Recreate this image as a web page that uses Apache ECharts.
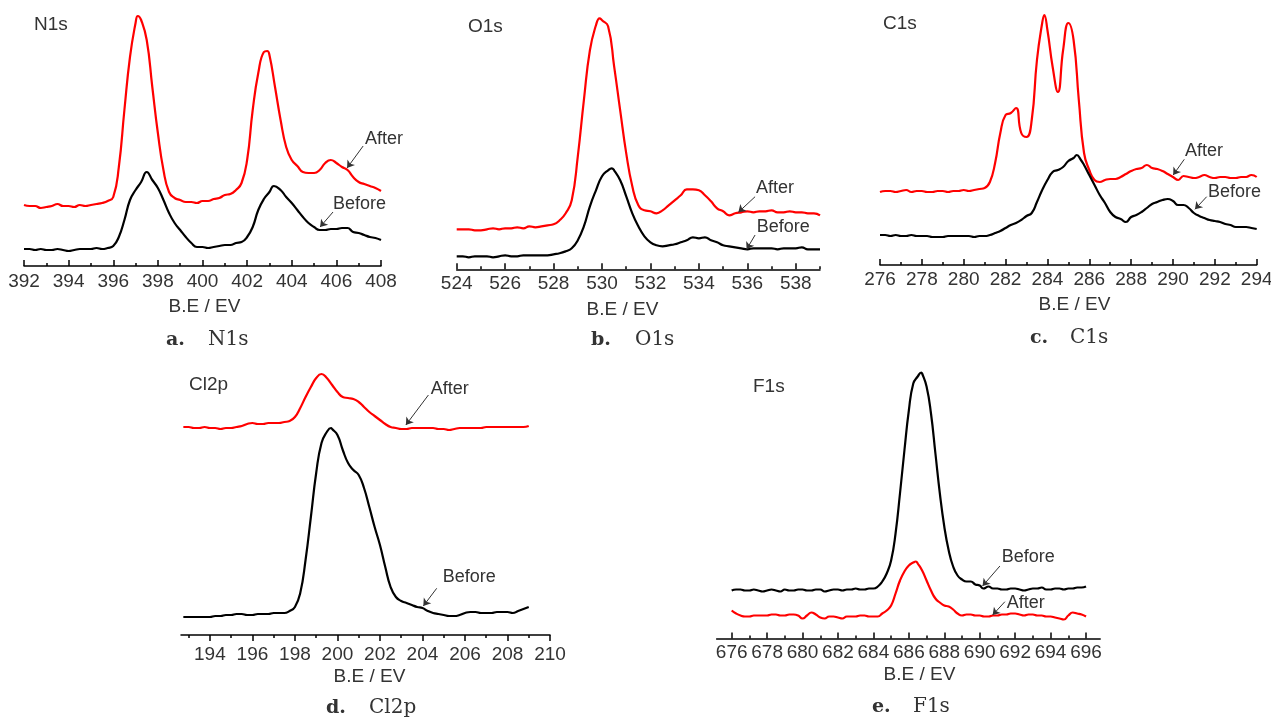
<!DOCTYPE html>
<html>
<head>
<meta charset="utf-8">
<title>XPS spectra before / after</title>
<script src="https://cdn.jsdelivr.net/npm/echarts@6/dist/echarts.min.js"></script>
<style>
  html, body { margin: 0; padding: 0; background: #fff; }
  #chart { width: 1271px; height: 718px; }
</style>
</head>
<body>
<div id="chart"></div>
<script>
// ---- data: [binding energy (eV), intensity (a.u.)] ----
// a. N1s
const n1sAfter = [[392,61],[392.25,60],[392.5,60],[392.75,58],[393,59],[393.25,60],[393.5,62],[393.75,60],[394,60],[394.25,59],[394.5,61],[394.75,60],[395,61],[395.25,62],[395.5,63],[395.75,65],[396,69],[396.25,99],[396.5,156],[396.75,209],[397,243],[397.1,250],[397.25,246],[397.5,226],[397.75,179],[398,133],[398.25,96],[398.5,74],[398.75,68],[399,66],[399.25,64],[399.5,64],[399.75,63],[400,65],[400.25,65],[400.5,67],[400.75,68],[401,71],[401.25,72],[401.5,76],[401.75,83],[402,106],[402.25,156],[402.5,193],[402.75,214],[402.9,215],[403,211],[403.25,179],[403.5,146],[403.75,119],[404,106],[404.25,100],[404.5,94],[404.75,93],[405,93],[405.25,96],[405.5,103],[405.75,106],[406,103],[406.25,99],[406.5,96],[406.75,89],[407,84],[407.25,82],[407.5,80],[407.75,78],[408,75]];
const n1sBefore = [[392,17],[392.25,17],[392.5,16],[392.75,17],[393,16],[393.25,16],[393.5,17],[393.75,16],[394,15],[394.25,16],[394.5,17],[394.75,17],[395,17],[395.25,18],[395.5,17],[395.75,18],[396,20],[396.25,29],[396.5,46],[396.75,66],[397,76],[397.25,84],[397.5,94],[397.75,86],[398,78],[398.25,66],[398.5,53],[398.75,43],[399,36],[399.25,29],[399.5,23],[399.75,19],[400,19],[400.25,18],[400.5,19],[400.75,20],[401,21],[401.25,21],[401.5,23],[401.75,24],[402,29],[402.25,39],[402.5,56],[402.75,67],[403,74],[403.2,80],[403.5,76],[403.75,69],[404,63],[404.25,56],[404.5,49],[404.75,43],[405,39],[405.25,36],[405.5,36],[405.75,37],[406,37],[406.25,38],[406.5,38],[406.75,34],[407,33],[407.25,31],[407.5,29],[407.75,28],[408,26]];
const n1sMajor = [392,394,396,398,400,402,404,406,408];
const n1sMinor = [393,395,397,399,401,403,405,407];

// b. O1s
const o1sAfter = [[524,40],[524.25,40],[524.5,40],[524.75,39],[525,39],[525.25,40],[525.5,41],[525.75,40],[526,41],[526.25,41],[526.5,42],[526.75,41],[527,43],[527.25,42],[527.5,43],[527.75,44],[528,45],[528.25,49],[528.5,56],[528.75,69],[529,113],[529.25,169],[529.5,219],[529.75,244],[529.9,251],[530,249],[530.25,243],[530.5,203],[530.75,159],[531,116],[531.25,83],[531.5,64],[531.75,59],[532,58],[532.25,56],[532.5,59],[532.75,64],[533,69],[533.25,74],[533.5,80],[533.75,80],[534,79],[534.25,74],[534.5,68],[534.75,61],[535,58],[535.25,54],[535.5,56],[535.75,57],[536,58],[536.25,57],[536.5,58],[536.75,58],[537,59],[537.25,57],[537.5,57],[537.75,58],[538,57],[538.25,57],[538.5,56],[538.75,56],[539,54]];
const o1sBefore = [[524,13],[524.25,13],[524.5,12],[524.75,13],[525,13],[525.25,13],[525.5,12],[525.75,13],[526,14],[526.25,13],[526.5,13],[526.75,14],[527,14],[527.25,14],[527.5,14],[527.75,14],[528,15],[528.25,16],[528.5,18],[528.75,21],[529,29],[529.25,43],[529.5,63],[529.75,79],[530,93],[530.25,99],[530.4,101],[530.5,99],[530.75,89],[531,73],[531.25,56],[531.5,43],[531.75,33],[532,27],[532.25,24],[532.5,23],[532.75,24],[533,25],[533.25,27],[533.5,29],[533.75,32],[534,31],[534.25,32],[534.5,29],[534.75,27],[535,24],[535.25,23],[535.5,22],[535.75,21],[536,20],[536.25,21],[536.5,21],[536.75,21],[537,21],[537.25,20],[537.5,21],[537.75,21],[538,21],[538.25,22],[538.5,20],[538.75,20],[539,20]];
const o1sMajor = [524,526,528,530,532,534,536,538];
const o1sMinor = [525,527,529,531,533,535,537,539];

// c. C1s
const c1sAfter = [[276,73],[276.25,74],[276.5,74],[276.75,73],[277,74],[277.25,75],[277.5,73],[277.75,74],[278,74],[278.25,73],[278.5,73],[278.75,74],[279,74],[279.25,73],[279.5,74],[279.75,74],[280,75],[280.25,74],[280.5,75],[280.75,76],[281,77],[281.25,83],[281.5,102],[281.75,132],[282,150],[282.25,152],[282.5,157],[282.75,132],[283,128],[283.25,145],[283.5,205],[283.75,242],[283.85,250],[284,235],[284.25,198],[284.5,173],[284.75,215],[285,242],[285.25,225],[285.5,165],[285.75,112],[286,95],[286.25,85],[286.5,83],[286.75,85],[287,86],[287.25,86],[287.5,88],[287.75,91],[288,94],[288.25,96],[288.5,97],[288.75,100],[289,97],[289.25,96],[289.5,94],[289.75,91],[290,88],[290.25,85],[290.5,89],[290.75,88],[291,87],[291.25,88],[291.5,90],[291.75,88],[292,87],[292.25,88],[292.5,88],[292.75,87],[293,87],[293.25,88],[293.5,88],[293.75,90],[294,88]];
const c1sBefore = [[276,30],[276.25,30],[276.5,29],[276.75,30],[277,29],[277.25,29],[277.5,30],[277.75,29],[278,29],[278.25,29],[278.5,28],[278.75,28],[279,28],[279.25,29],[279.5,29],[279.75,29],[280,29],[280.25,29],[280.5,28],[280.75,29],[281,29],[281.25,30],[281.5,32],[281.75,34],[282,37],[282.25,40],[282.5,42],[282.75,45],[283,49],[283.25,52],[283.5,63],[283.75,75],[284,85],[284.25,93],[284.5,95],[284.75,98],[285,104],[285.25,107],[285.4,110],[285.6,105],[285.75,100],[286,90],[286.25,80],[286.5,70],[286.75,62],[287,53],[287.25,48],[287.5,46],[287.75,43],[288,48],[288.25,50],[288.5,53],[288.75,57],[289,61],[289.25,63],[289.5,65],[289.75,66],[290,64],[290.25,60],[290.5,60],[290.75,57],[291,52],[291.25,49],[291.5,47],[291.75,45],[292,44],[292.25,43],[292.5,41],[292.75,40],[293,38],[293.25,38],[293.5,38],[293.75,37],[294,36]];
const c1sMajor = [276,278,280,282,284,286,288,290,292,294];
const c1sMinor = [277,279,281,283,285,287,289,291,293];

// d. Cl2p
const cl2pAfter = [[192.75,208],[193,208],[193.25,207],[193.5,207],[193.75,208],[194,207],[194.25,207],[194.5,206],[194.75,207],[195,207],[195.25,208],[195.5,209],[195.75,211],[196,212],[196.25,211],[196.5,211],[196.75,212],[197,212],[197.25,212],[197.5,213],[197.75,214],[198,218],[198.25,227],[198.5,238],[198.75,248],[199,257],[199.25,261],[199.5,257],[199.75,250],[200,243],[200.25,238],[200.5,237],[200.75,236],[201,233],[201.25,228],[201.5,223],[201.75,219],[202,215],[202.25,211],[202.5,208],[202.75,207],[203,206],[203.25,206],[203.5,207],[203.75,207],[204,207],[204.25,207],[204.5,207],[204.75,206],[205,206],[205.25,205],[205.5,206],[205.75,207],[206,207],[206.25,207],[206.5,207],[206.75,207],[207,208],[207.25,208],[207.5,208],[207.75,208],[208,208],[208.25,208],[208.5,208],[208.75,208],[209,209]];
const cl2pBefore = [[192.75,18],[193,18],[193.25,18],[193.5,18],[193.75,18],[194,18],[194.25,19],[194.5,19],[194.75,20],[195,20],[195.25,21],[195.5,21],[195.75,20],[196,20],[196.25,21],[196.5,21],[196.75,21],[197,22],[197.25,22],[197.5,22],[197.75,24],[198,28],[198.25,42],[198.5,75],[198.75,118],[199,162],[199.25,192],[199.5,203],[199.7,207],[199.75,206],[200,200],[200.25,185],[200.5,172],[200.75,165],[201,160],[201.25,147],[201.5,128],[201.75,108],[202,90],[202.25,68],[202.5,48],[202.75,38],[203,34],[203.25,32],[203.5,30],[203.75,28],[204,27],[204.25,24],[204.5,22],[204.75,21],[205,20],[205.25,19],[205.5,19],[205.75,20],[206,22],[206.25,23],[206.5,23],[206.75,22],[207,22],[207.25,22],[207.5,23],[207.75,23],[208,23],[208.25,22],[208.5,24],[208.75,26],[209,28]];
const cl2pMajor = [194,196,198,200,202,204,206,208,210];
const cl2pMinor = [193,195,197,199,201,203,205,207,209];

// e. F1s
const f1sBefore = [[676,48],[676.25,49],[676.5,49],[676.75,48],[677,48],[677.25,49],[677.5,48],[677.75,47],[678,48],[678.25,49],[678.5,48],[678.75,47],[679,49],[679.25,48],[679.5,48],[679.75,49],[680,49],[680.25,48],[680.5,48],[680.75,49],[681,49],[681.25,47],[681.5,48],[681.75,49],[682,49],[682.25,48],[682.5,49],[682.75,49],[683,50],[683.25,49],[683.5,49],[683.75,50],[684,50],[684.25,52],[684.5,57],[684.75,65],[685,78],[685.25,105],[685.5,145],[685.75,188],[686,228],[686.25,255],[686.5,262],[686.7,266],[686.75,265],[687,252],[687.25,225],[687.5,185],[687.75,145],[688,112],[688.25,88],[688.5,72],[688.75,63],[689,59],[689.25,57],[689.5,57],[689.75,54],[690,53],[690.2,50],[690.5,52],[690.75,50],[691,50],[691.25,49],[691.5,49],[691.75,50],[692,50],[692.25,49],[692.5,48],[692.75,49],[693,50],[693.25,50],[693.5,51],[693.75,49],[694,49],[694.25,50],[694.5,50],[694.75,49],[695,50],[695.25,50],[695.5,51],[695.75,51],[696,52]];
const f1sAfter = [[676,28],[676.25,25],[676.5,23],[676.75,22],[677,22],[677.25,23],[677.5,23],[677.75,23],[678,23],[678.25,24],[678.5,24],[678.75,23],[679,23],[679.25,24],[679.5,24],[679.75,23],[680,20],[680.25,23],[680.5,26],[680.75,24],[681,21],[681.25,20],[681.5,22],[681.75,22],[682,21],[682.25,20],[682.5,22],[682.75,22],[683,22],[683.25,23],[683.5,23],[683.75,22],[684,22],[684.25,22],[684.5,25],[684.75,28],[685,33],[685.25,45],[685.5,58],[685.75,67],[686,73],[686.25,76],[686.4,77],[686.5,75],[686.75,68],[687,58],[687.25,48],[687.5,40],[687.75,36],[688,33],[688.25,32],[688.5,29],[688.75,25],[689,23],[689.25,24],[689.5,24],[689.75,23],[690,23],[690.25,22],[690.5,22],[690.75,23],[691,23],[691.25,24],[691.5,24],[691.75,25],[692,25],[692.25,24],[692.5,23],[692.75,24],[693,24],[693.25,23],[693.5,23],[693.75,22],[694,22],[694.25,21],[694.5,20],[694.75,19],[695,23],[695.25,26],[695.5,25],[695.75,24],[696,22]];
const f1sMajor = [676,678,680,682,684,686,688,690,692,694,696];
const f1sMinor = [677,679,681,683,685,687,689,691,693,695];

// ---- layout ----
const sans = '"Liberation Sans",Arial,sans-serif';
const serif = '"DejaVu Serif","Liberation Serif",serif';
const textColor = '#333';

const panels = [
  { name: 'N1s', letter: 'a.', after: n1sAfter, before: n1sBefore, major: n1sMajor, minor: n1sMinor,
    min: 392, max: 408, left: 24, top: 6, width: 357, height: 260, inside: true, margin: 6,
    tag: [34, 25], axisName: [204.5, 307], caption: [166, 208, 340],
    notes: [
      { on: 'after', text: 'After', at: [407.28, 126.5], from: [407.2, 120], to: [406.48, 98] },
      { on: 'before', text: 'Before', at: [405.85, 61.5], from: [405.85, 54], to: [405.27, 39] }
    ] },
  { name: 'O1s', letter: 'b.', after: o1sAfter, before: o1sBefore, major: o1sMajor, minor: o1sMinor,
    min: 524, max: 539, left: 456.7, top: 6, width: 363.3, height: 263.3, inside: true, margin: 5,
    tag: [468, 27], axisName: [622.5, 310], caption: [591, 635, 340],
    notes: [
      { on: 'after', text: 'After', at: [536.36, 80.8], from: [536.32, 72.6], to: [535.63, 57] },
      { on: 'before', text: 'Before', at: [536.39, 42.6], from: [536.32, 34.3], to: [535.97, 20] }
    ] },
  { name: 'C1s', letter: 'c.', after: c1sAfter, before: c1sBefore, major: c1sMajor, minor: c1sMinor,
    min: 276, max: 294, left: 880, top: 6, width: 376.7, height: 259, inside: true, margin: 5,
    tag: [883, 24], axisName: [1074.5, 305], caption: [1030, 1070, 338],
    notes: [
      { on: 'after', text: 'After', at: [290.57, 113.7], from: [290.54, 105.7], to: [290.01, 90] },
      { on: 'before', text: 'Before', at: [291.67, 72.5], from: [291.61, 68.3], to: [291.05, 55.7] }
    ] },
  { name: 'Cl2p', letter: 'd.', after: cl2pAfter, before: cl2pBefore, major: cl2pMajor, minor: cl2pMinor,
    min: 192.64, max: 210, left: 181, top: 365, width: 369, height: 270, inside: false, margin: 10,
    tag: [189, 385], axisName: [369.5, 677], caption: [326, 369, 708],
    notes: [
      { on: 'after', text: 'After', at: [204.39, 246], from: [204.28, 240], to: [203.22, 210] },
      { on: 'before', text: 'Before', at: [204.95, 58], from: [204.67, 46.7], to: [204.04, 29] }
    ] },
  { name: 'F1s', letter: 'e.', after: f1sAfter, before: f1sBefore, major: f1sMajor, minor: f1sMinor,
    min: 675.15, max: 696.8, left: 716.6, top: 365, width: 383.6, height: 273.5, inside: true, margin: 5,
    tag: [753, 387], axisName: [919.5, 675], caption: [872, 913, 707],
    notes: [
      { on: 'before', text: 'Before', at: [691.24, 81.8], from: [691.14, 72.5], to: [690.16, 52.5] },
      { on: 'after', text: 'After', at: [691.52, 35.2], from: [691.42, 36.8], to: [690.73, 23.5] }
    ] }
];

const grid = [], xAxis = [], yAxis = [], series = [], graphic = [];

function lineSeries(data, color, i, notes) {
  const s = {
    type: 'line', data: data, xAxisIndex: 2 * i, yAxisIndex: i,
    showSymbol: false, smooth: 0.5, clip: false,
    lineStyle: { color: color, width: 2.2 }, itemStyle: { color: color },
    silent: true, z: 3
  };
  if (notes.length) {
    s.markLine = {
      silent: true, animation: false, symbol: ['none', 'arrow'], symbolSize: 7,
      lineStyle: { color: '#333', width: 1, type: 'solid' },
      label: { show: false },
      data: notes.map(n => [{ coord: n.from }, { coord: n.to }])
    };
    s.markPoint = {
      silent: true, animation: false, symbol: 'circle', symbolSize: 0,
      itemStyle: { color: 'transparent' },
      data: notes.map(n => ({
        coord: n.at,
        label: { show: true, position: 'right', distance: 0, formatter: n.text,
                 color: textColor, fontFamily: sans, fontSize: 18 }
      }))
    };
  }
  return s;
}

panels.forEach((p, i) => {
  grid.push({ left: p.left, top: p.top, width: p.width, height: p.height, outerBoundsMode: 'none' });
  const base = { type: 'value', gridIndex: i, position: 'bottom', min: p.min, max: p.max, splitLine: { show: false } };
  xAxis.push(Object.assign({}, base, {
    axisLine: { show: true, onZero: false, lineStyle: { color: '#000', width: 1.5 } },
    axisTick: { show: true, inside: p.inside, length: 6, customValues: p.major, lineStyle: { color: '#000', width: 1.5 } },
    axisLabel: { show: true, customValues: p.major, margin: p.margin, fontFamily: sans, fontSize: 19, color: textColor, hideOverlap: false }
  }));
  xAxis.push(Object.assign({}, base, {
    axisLine: { show: false },
    axisTick: { show: true, inside: p.inside, length: 3, customValues: p.minor, lineStyle: { color: '#000', width: 1.5 } },
    axisLabel: { show: false }
  }));
  yAxis.push({ type: 'value', gridIndex: i, min: 0, max: p.height, show: false });

  series.push(lineSeries(p.after, '#ff0000', i, p.notes.filter(n => n.on === 'after')));
  series.push(lineSeries(p.before, '#000000', i, p.notes.filter(n => n.on === 'before')));

  graphic.push({ type: 'text', silent: true, style: { text: p.name, x: p.tag[0], y: p.tag[1],
    font: '19px ' + sans, fill: textColor, textAlign: 'left', textVerticalAlign: 'middle' } });
  graphic.push({ type: 'text', silent: true, style: { text: 'B.E / EV', x: p.axisName[0], y: p.axisName[1],
    font: '19px ' + sans, fill: textColor, textAlign: 'center', textVerticalAlign: 'middle' } });
  graphic.push({ type: 'text', silent: true, style: { text: p.letter, x: p.caption[0], y: p.caption[2],
    font: 'bold 19px ' + serif, fill: textColor, textAlign: 'left', textVerticalAlign: 'middle' } });
  graphic.push({ type: 'text', silent: true, style: { text: p.name, x: p.caption[1], y: p.caption[2],
    font: '20px ' + serif, fill: textColor, textAlign: 'left', textVerticalAlign: 'middle' } });
});

const chart = echarts.init(document.getElementById('chart'));
chart.setOption({
  animation: false,
  backgroundColor: '#fff',
  grid: grid,
  xAxis: xAxis,
  yAxis: yAxis,
  series: series,
  graphic: graphic
});
</script>
</body>
</html>
